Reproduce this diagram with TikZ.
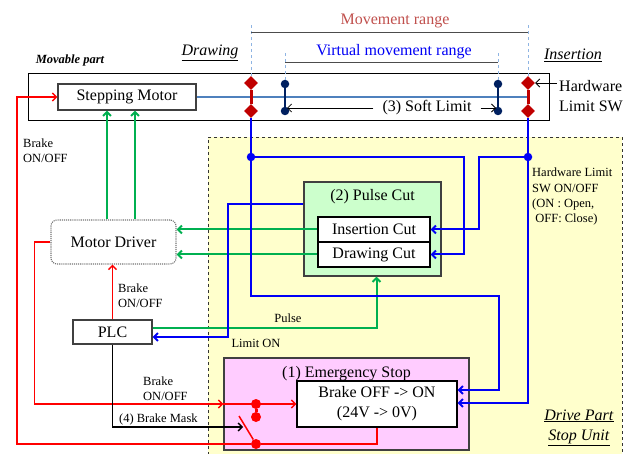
\documentclass[tikz,border=0pt]{standalone}
\usepackage{xcolor}
\usepackage{fontspec}
\setmainfont{Liberation Serif}
\usepackage{tikz}
\usetikzlibrary{positioning, shapes.geometric, arrows.meta}

\definecolor{rangered}{HTML}{C0504D}
\definecolor{sigblue}{RGB}{0,0,245}
\definecolor{siggreen}{HTML}{00B050}
\definecolor{sigred}{RGB}{255,0,0}
\definecolor{shaftblue}{HTML}{4F81BD}
\definecolor{swred}{HTML}{C00000}
\definecolor{softnavy}{HTML}{002060}
\definecolor{guide}{HTML}{8EB4E3}
\definecolor{unitfill}{HTML}{FFFFCC}
\definecolor{cutfill}{HTML}{CCFFCC}
\definecolor{stopfill}{HTML}{FFCCFF}

\begin{document}
\begin{tikzpicture}[x=1pt, y=-1pt, >={Straight Barb[length=4pt, width=8pt]}, font=\fontsize{16}{20}\selectfont]
            \tikzstyle{box} = [draw=black!75, line width=1.1pt, inner sep=0pt, align=center];
            \tikzstyle{note} = [inner sep=0pt, align=left, font=\fontsize{12.5}{15.3}\selectfont];
            \tikzstyle{boxtitle} = [inner sep=0pt];
            \tikzstyle{hwsw} = [diamond, fill=swred, inner sep=0pt, minimum width=14pt, minimum height=14pt];
            \tikzstyle{softsw} = [circle, fill=softnavy, inner sep=0pt, minimum size=8.5pt];
            \tikzstyle{joint} = [circle, fill=sigblue, inner sep=0pt, minimum size=8.5pt];
            \tikzstyle{contact} = [circle, fill=sigred, inner sep=0pt, minimum size=10pt];
            \tikzstyle{bluewire} = [draw=sigblue, line width=2pt];
            \tikzstyle{greenwire} = [draw=siggreen, line width=2pt];
            \tikzstyle{redwire} = [draw=sigred, line width=1.5pt];

            \useasboundingbox (0,0) rectangle (629,454);

            \node [draw=black!80, dashed, line width=0.9pt, fill=unitfill, inner sep=0pt, minimum width=414pt, minimum height=321pt] (DSU) at (415,297.5) {};
            \node [draw, line width=1pt, inner sep=0pt, minimum width=521pt, minimum height=47pt] (MP) at (288.5,97.5) {};

            \node [box, minimum width=138pt, minimum height=26pt] (SM) at (127,97) {Stepping Motor};
            \node [box, draw=black!55, densely dotted, rounded corners=6pt, minimum width=125pt, minimum height=44pt] (MD) at (113.5,242) {Motor Driver};
            \node [box, minimum width=79pt, minimum height=24pt] (PLC) at (112.5,332) {PLC};

            \node [box, fill=cutfill, minimum width=137pt, minimum height=94pt] (PC) at (372.5,229) {};
            \node [boxtitle, below = 7.5pt of PC.north] (PCt) {(2) Pulse Cut};
            \node [box, draw=black, fill=white, minimum width=112pt, minimum height=25pt] (IC) at (374,229.5) {Insertion Cut};
            \node [box, draw=black, fill=white, minimum width=112pt, minimum height=25pt, below = -1.1pt of IC] (DC) {Drawing Cut};

            \node [box, fill=stopfill, minimum width=245pt, minimum height=92pt] (ES) at (346.5,404) {};
            \node [boxtitle, below = 9pt of ES.north] (ESt) {(1) Emergency Stop};
            \node [box, draw=black, fill=white, minimum width=160pt, minimum height=46pt] (BR) at (377,404) {Brake OFF -> ON\\(24V -> 0V)};

            \node [text=rangered] (MR) at (395,21) {Movement range};
            \node [text=sigblue] (VR) at (394,52) {Virtual movement range};
            \node (DRW) at (210,52.5) {\underline{\textit{Drawing}}};
            \node (INS) at (573,55.5) {\underline{\textit{Insertion}}};
            \node [note, font=\fontsize{12.5}{15.3}\selectfont\bfseries\itshape] (MVP) at (70,60) {Movable part};
            \node [align=center] (DPS) at (579,427.5) {\underline{\textit{Drive Part}}\\\underline{\textit{Stop Unit}}};

            \node [note, anchor=west] (BRa) at (23,151) {Brake\\ON/OFF};
            \node [note, anchor=west] (BRb) at (118,296) {Brake\\ON/OFF};
            \node [note, anchor=west] (BRc) at (143,389) {Brake\\ON/OFF};
            \node [note] (PUL) at (288,318) {Pulse};
            \node [note] (LON) at (256,343) {Limit ON};
            \node [note, anchor=west] (BMT) at (119,419) {(4) Brake Mask};
            \node [note, anchor=north west] (HWn) at (532,168) {Hardware Limit\\SW ON/OFF\\(ON : Open,\\\ OFF: Close)};

            \foreach \n/\x/\y in {HL1/251/83, HL2/251/111, HR1/528/83, HR2/528/111}
                \node [hwsw] (\n) at (\x,\y) {};
            \foreach \n/\x/\y in {SL1/285/84, SL2/285/111, SR1/498/84, SR2/498/111}
                \node [softsw] (\n) at (\x,\y) {};
            \node [joint] (J1) at (251,157) {};
            \node [joint] (J2) at (528,157) {};
            \foreach \n/\y in {W1/404, W2/417, W3/444}
                \node [contact] (\n) at (256,\y) {};

            \draw [draw=shaftblue, line width=2.5pt] (SM.east) -- (SM.east -| HR1);
            \foreach \a/\b in {HL1/HL2, HR1/HR2}
                \draw [swred, line width=3pt] (\a) -- (\b);
            \foreach \a/\b in {SL1/SL2, SR1/SR2}
                \draw [softnavy, line width=2.7pt] (\a) -- (\b);

            \foreach \n in {HL1, HR1}
                \draw [guide, dashed, line width=0.9pt] (\n.north) -- (\n |- 0,25);
            \foreach \n in {SL1, SR1}
                \draw [guide, dashed, line width=0.9pt] (\n.north) -- (\n |- 0,50);
            \draw [black!70, line width=1pt] (HL1 |- 0,33) -- (HR1 |- 0,33);
            \draw [black!70, line width=1pt] (SL1 |- 0,63) -- (SR1 |- 0,63);

            \node [inner sep=9pt] (SLt) at (427,108) {(3) Soft Limit};
            \draw [->, line width=0.8pt, shorten >=2pt] (SLt.west) -- (SL2 |- SLt.west);
            \draw [->, line width=0.8pt, shorten >=2pt] (SLt.east) -- (SR2 |- SLt.east);
            \node [inner sep=0pt, align=left, anchor=west] (HWt) at (559,96.5) {Hardware\\Limit SW};
            \draw [<-, line width=0.8pt, shorten >=2pt] (HR1.east) -- (HR1.east -| HWt.west);

            \foreach \d in {-6.5, 21.5}
                \draw [greenwire, ->] ([xshift=\d pt]MD.north) -- ([xshift=\d pt]MD.north |- SM.south);
            \draw [greenwire, ->] (IC.west) -- (IC.west -| MD.east);
            \draw [greenwire, ->] (DC.west) -- (DC.west -| MD.east);
            \draw [greenwire, ->] ([yshift=4pt]PLC.east) -| ([xshift=4pt]PC.south);

            \draw [bluewire] (HL2.south) -- (J1);
            \draw [bluewire] (HR2.south) -- (J2);
            \draw [bluewire, ->] (J1) -| ([xshift=33pt]DC.east) -- (DC.east);
            \draw [bluewire, ->] (J1) |- (499,296) |- ([yshift=14pt]BR.east);
            \draw [bluewire, ->] (J2) -| ([xshift=48pt]IC.east) -- (IC.east);
            \draw [bluewire, ->] (J2) |- ([yshift=1pt]BR.east);
            \draw [bluewire, ->] ([yshift=25pt]PC.west) -| (228,337) -- ([yshift=-5pt]PLC.east);

            \draw [redwire, ->] (PLC.north) -- (PLC.north |- MD.south);
            \draw [redwire, ->] (MD.west) -- ++(-16,0) |- (ES.west |- W1);
            \draw [redwire, ->] (ES.west |- W1) -- (BR.west);
            \draw [redwire, ->] (BR.south) |- (W3) -- (17,444) |- (SM.west);
            \draw [sigred, line width=3pt] (W1) -- (W2);
            \coordinate (SWb) at (239,416);
            \draw [redwire] (W3) -- (SWb);
            \coordinate (BMk) at (243,427);
            \draw [black, line width=1.4pt, ->] (PLC.south) |- (BMk);

        \end{tikzpicture}
\end{document}
